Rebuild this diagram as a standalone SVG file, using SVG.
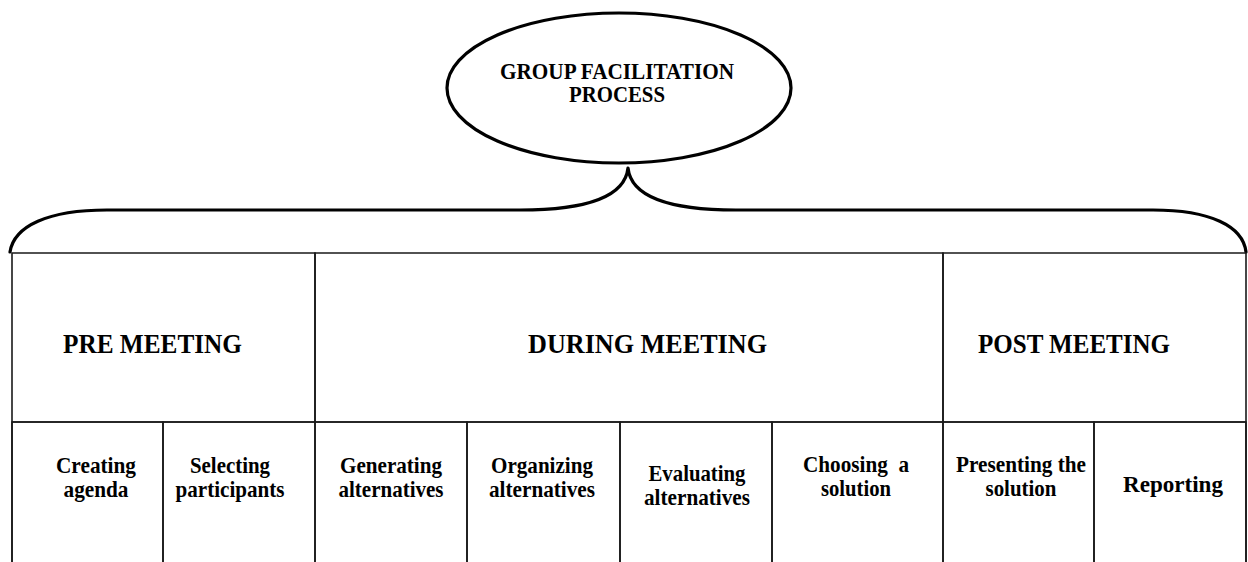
<svg xmlns="http://www.w3.org/2000/svg" width="1248" height="562" viewBox="0 0 1248 562">
<style>
.cell{fill:none;stroke:#1a1a1a;stroke-width:1.6}
.hd{font-family:"Liberation Serif","Times New Roman",Times,"DejaVu Serif","Noto Serif",serif;font-weight:bold;font-size:28px;fill:#000}
.t{font-family:"Liberation Serif","Times New Roman",Times,"DejaVu Serif","Noto Serif",serif;font-weight:bold;font-size:24px;fill:#000;text-anchor:middle}
.ti{font-family:"Liberation Serif","Times New Roman",Times,"DejaVu Serif","Noto Serif",serif;font-weight:bold;font-size:23px;fill:#000;text-anchor:middle}
.brace{fill:none;stroke:#000;stroke-width:3.2;stroke-linecap:round;stroke-linejoin:round}
</style>
<rect width="1248" height="562" fill="#fff"/>
<g id="title">
<ellipse cx="619" cy="88" rx="172" ry="75" fill="#fff" stroke="#000" stroke-width="3.2"/>
<text class="ti" x="617" y="79" textLength="234" lengthAdjust="spacingAndGlyphs">GROUP FACILITATION</text>
<text class="ti" x="617" y="102" textLength="96" lengthAdjust="spacingAndGlyphs">PROCESS</text>
</g>
<g id="connectors">
<path class="brace" d="M 10 252 C 14 226 48 210 107 210 L 520 210 C 590 210 625 196 628 168 C 631 196 666 210 736 210 L 1153 210 C 1210 210 1243 226 1246 252"/>
</g>
<g id="pre-meeting">
<path class="cell" d="M 12 562 V 253 H 315 V 422 H 12"/>
<text class="hd" x="63" y="353" textLength="179" lengthAdjust="spacingAndGlyphs">PRE MEETING</text>
</g>
<g id="during-meeting">
<path class="cell" d="M 315 422 V 253 H 943 V 422 H 315"/>
<text class="hd" x="528" y="353" textLength="239" lengthAdjust="spacingAndGlyphs">DURING MEETING</text>
</g>
<g id="post-meeting">
<path class="cell" d="M 943 422 V 253 H 1246 V 562 M 943 422 H 1246"/>
<text class="hd" x="978" y="353" textLength="192" lengthAdjust="spacingAndGlyphs">POST MEETING</text>
</g>
<g id="creating-agenda">
<path class="cell" d="M 12 562 V 422 H 163 V 562"/>
<text class="t" x="96" y="473" textLength="80" lengthAdjust="spacingAndGlyphs">Creating</text>
<text class="t" x="96" y="497" textLength="65" lengthAdjust="spacingAndGlyphs">agenda</text>
</g>
<g id="selecting-participants">
<path class="cell" d="M 163 562 V 422 H 315 V 562"/>
<text class="t" x="230" y="473" textLength="80" lengthAdjust="spacingAndGlyphs">Selecting</text>
<text class="t" x="230" y="497" textLength="109" lengthAdjust="spacingAndGlyphs">participants</text>
</g>
<g id="generating-alternatives">
<path class="cell" d="M 315 562 V 422 H 467 V 562"/>
<text class="t" x="391" y="473" textLength="102" lengthAdjust="spacingAndGlyphs">Generating</text>
<text class="t" x="391" y="497" textLength="105" lengthAdjust="spacingAndGlyphs">alternatives</text>
</g>
<g id="organizing-alternatives">
<path class="cell" d="M 467 562 V 422 H 620 V 562"/>
<text class="t" x="542" y="473" textLength="102" lengthAdjust="spacingAndGlyphs">Organizing</text>
<text class="t" x="542" y="497" textLength="106" lengthAdjust="spacingAndGlyphs">alternatives</text>
</g>
<g id="evaluating-alternatives">
<path class="cell" d="M 620 562 V 422 H 772 V 562"/>
<text class="t" x="697" y="481" textLength="97" lengthAdjust="spacingAndGlyphs">Evaluating</text>
<text class="t" x="697" y="505" textLength="106" lengthAdjust="spacingAndGlyphs">alternatives</text>
</g>
<g id="choosing-solution">
<path class="cell" d="M 772 562 V 422 H 943 V 562"/>
<text class="t" x="856" y="472" textLength="106" lengthAdjust="spacingAndGlyphs" xml:space="preserve">Choosing  a</text>
<text class="t" x="856" y="496" textLength="70" lengthAdjust="spacingAndGlyphs">solution</text>
</g>
<g id="presenting-solution">
<path class="cell" d="M 943 562 V 422 H 1094 V 562"/>
<text class="t" x="1021" y="472" textLength="130" lengthAdjust="spacingAndGlyphs">Presenting the</text>
<text class="t" x="1021" y="496" textLength="71" lengthAdjust="spacingAndGlyphs">solution</text>
</g>
<g id="reporting">
<path class="cell" d="M 1094 562 V 422 H 1246 V 562"/>
<text class="t" x="1173" y="492" textLength="100" lengthAdjust="spacingAndGlyphs">Reporting</text>
</g>
</svg>
